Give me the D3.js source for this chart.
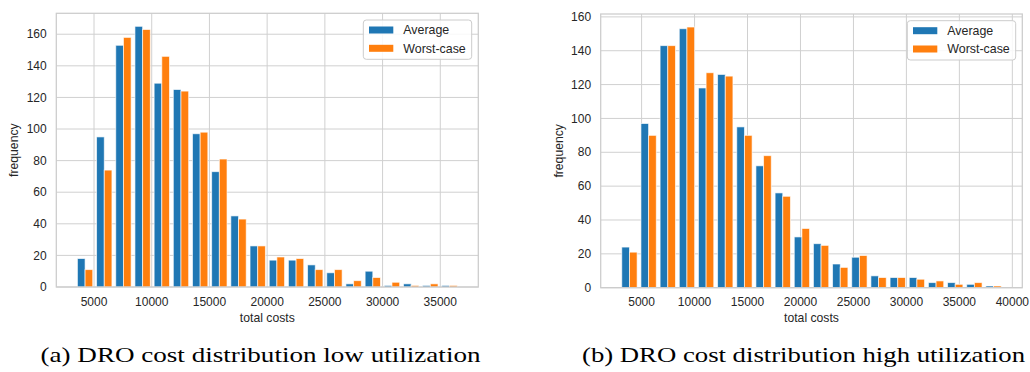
<!DOCTYPE html>
<html>
<head>
<meta charset="utf-8">
<script src="https://cdn.jsdelivr.net/npm/d3@7/dist/d3.min.js"></script>
<style>
  body { margin: 0; background: #fff; }
  svg { display: block; }
</style>
</head>
<body>
<svg id="chart" width="1030" height="372"></svg>
<script>
// ---------- data ----------
const seriesNames = ["Average", "Worst-case"];
const seriesColors = ["#1f77b4", "#ff7f0e"];
const binCount = 20;

// (a) low utilization: counts per bin
const lowAverage = [18, 95, 153, 165, 129, 125, 97, 73, 45, 26, 17, 17, 14, 9, 2, 10, 1, 2, 1, 1];
const lowWorst   = [11, 74, 158, 163, 146, 124, 98, 81, 43, 26, 19, 18, 11, 11, 4, 6, 3, 1, 2, 1];
const lowCostRange = [3395, 36631];
const lowXTicks = [5000, 10000, 15000, 20000, 25000, 30000, 35000];

// (b) high utilization: counts per bin
const highAverage = [24, 97, 143, 153, 118, 126, 95, 72, 56, 30, 26, 14, 18, 7, 6, 6, 3, 3, 2, 1];
const highWorst   = [21, 90, 143, 154, 127, 125, 90, 78, 54, 35, 25, 12, 19, 6, 6, 5, 4, 2, 3, 1];
const highCostRange = [2948, 39133];
const highXTicks = [5000, 10000, 15000, 20000, 25000, 30000, 35000, 40000];

const yTicks = [0, 20, 40, 60, 80, 100, 120, 140, 160];
const xLabel = "total costs";
const yLabel = "frequency";
const captions = ["(a) DRO cost distribution low utilization", "(b) DRO cost distribution high utilization"];

// ---------- layout ----------
const panels = [
  { series: [lowAverage, lowWorst], range: lowCostRange, xTicks: lowXTicks, caption: captions[0],
    left: 56.3, right: 478.3, top: 13.3, bottom: 287, yLabelX: 17.5, captionX: 40.5, captionW: 440 },
  { series: [highAverage, highWorst], range: highCostRange, xTicks: highXTicks, caption: captions[1],
    left: 600.7, right: 1022.3, top: 14, bottom: 287.7, yLabelX: 562.5, captionX: 582, captionW: 443 }
];

const svg = d3.select("#chart");
const gridColor = "#d0d0d0";
const textColor = "#262626";
const sansFont = "'Liberation Sans', Arial, sans-serif";

panels.forEach(p => {
  const [lo, hi] = p.range;
  const span = hi - lo;
  const x = d3.scaleLinear().domain([lo - 0.05 * span, hi + 0.05 * span]).range([p.left, p.right]);
  const yMax = d3.max(p.series.flat()) * 1.05;
  const y = d3.scaleLinear().domain([0, yMax]).range([p.bottom, p.top]);
  const edges = d3.range(binCount + 1).map(i => lo + i * span / binCount);

  const g = svg.append("g");

  // grid
  g.append("g").selectAll("line.v").data(p.xTicks).join("line")
    .attr("x1", d => x(d)).attr("x2", d => x(d))
    .attr("y1", p.top).attr("y2", p.bottom)
    .attr("stroke", gridColor).attr("stroke-width", 1);
  g.append("g").selectAll("line.h").data(yTicks).join("line")
    .attr("x1", p.left).attr("x2", p.right)
    .attr("y1", d => y(d)).attr("y2", d => y(d))
    .attr("stroke", gridColor).attr("stroke-width", 1);

  // bars
  p.series.forEach((vals, k) => {
    g.append("g").selectAll("rect").data(vals).join("rect")
      .attr("x", (d, i) => {
        const w = x(edges[i + 1]) - x(edges[i]);
        return x(edges[i]) + w * (0.1 + 0.4 * k);
      })
      .attr("width", (d, i) => (x(edges[i + 1]) - x(edges[i])) * 0.4)
      .attr("y", d => y(d))
      .attr("height", d => y(0) - y(d))
      .attr("fill", seriesColors[k])
      .attr("stroke", "#fff")
      .attr("stroke-opacity", 0.7)
      .attr("stroke-width", 0.9);
  });

  // frame
  g.append("rect")
    .attr("x", p.left).attr("y", p.top)
    .attr("width", p.right - p.left).attr("height", p.bottom - p.top)
    .attr("fill", "none").attr("stroke", "#cccccc").attr("stroke-width", 1.25);

  // x tick labels
  g.append("g").selectAll("text").data(p.xTicks).join("text")
    .attr("x", d => x(d)).attr("y", 306.3)
    .attr("text-anchor", "middle")
    .attr("font-family", sansFont).attr("font-size", 12).attr("fill", textColor)
    .text(d => d);

  // y tick labels
  g.append("g").selectAll("text").data(yTicks).join("text")
    .attr("x", p.left - 9.6).attr("y", d => y(d))
    .attr("dy", "0.35em")
    .attr("text-anchor", "end")
    .attr("font-family", sansFont).attr("font-size", 12).attr("fill", textColor)
    .text(d => d);

  // axis labels
  g.append("text")
    .attr("x", (p.left + p.right) / 2).attr("y", 322)
    .attr("text-anchor", "middle")
    .attr("font-family", sansFont).attr("font-size", 12.2).attr("fill", textColor)
    .text(xLabel);
  g.append("text")
    .attr("transform", `translate(${p.yLabelX},${(p.top + p.bottom) / 2}) rotate(-90)`)
    .attr("text-anchor", "middle")
    .attr("font-family", sansFont).attr("font-size", 12.2).attr("fill", textColor)
    .text(yLabel);

  // legend
  const lw = 108.4, lh = 39.3;
  const lx = p.right - 6.6 - lw, ly = p.top + 6.7;
  const leg = g.append("g");
  leg.append("rect")
    .attr("x", lx).attr("y", ly).attr("width", lw).attr("height", lh)
    .attr("rx", 3).attr("fill", "#fff").attr("fill-opacity", 0.85)
    .attr("stroke", "#cccccc").attr("stroke-width", 1);
  seriesNames.forEach((name, k) => {
    const cy = ly + 10 + k * 18.3;
    leg.append("rect")
      .attr("x", lx + 5.7).attr("y", cy - 3.5)
      .attr("width", 24.3).attr("height", 7)
      .attr("fill", seriesColors[k]);
    leg.append("text")
      .attr("x", lx + 40).attr("y", cy).attr("dy", "0.35em")
      .attr("font-family", sansFont).attr("font-size", 12.4).attr("fill", textColor)
      .text(name);
  });

  // caption
  svg.append("text")
    .attr("x", p.captionX).attr("y", 362)
    .attr("font-family", "'Liberation Serif', 'DejaVu Serif', serif")
    .attr("font-size", 21)
    .attr("fill", "#000")
    .attr("textLength", p.captionW)
    .attr("lengthAdjust", "spacingAndGlyphs")
    .text(p.caption);
});
</script>
</body>
</html>
